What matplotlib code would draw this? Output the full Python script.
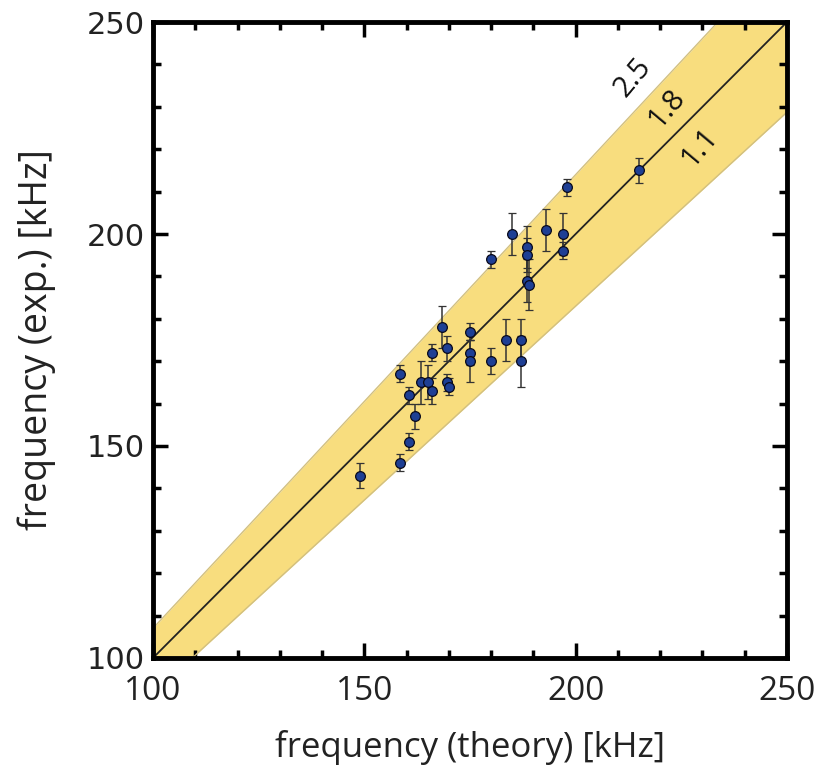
import matplotlib
matplotlib.use('Agg')
import matplotlib.pyplot as plt
import numpy as np
from matplotlib.ticker import MultipleLocator

# data
x_theory = [149, 158.5, 160.5, 162, 158.5, 160.5, 163.5, 165, 166, 166, 168.5, 169.5,
            169.5, 170, 175, 175, 175, 180, 183.5, 187, 187, 180, 185, 188.5, 188.5,
            188.5, 189, 193, 197, 197, 198, 215]
y_exp = [143, 146, 151, 157, 167, 162, 165, 165, 163, 172, 178, 173,
         165, 164, 177, 172, 170, 170, 175, 175, 170, 194, 200, 197, 195,
         189, 188, 201, 200, 196, 211, 215]
y_err = [3, 2, 2, 3, 2, 2, 5, 4, 3, 2, 5, 3,
         2, 2, 2, 3, 5, 3, 5, 5, 6, 2, 5, 5, 4,
         5, 6, 5, 5, 2, 2, 3]

band_factors = [1.07, 1.0, 0.915]
band_labels = ['2.5', '1.8', '1.1']
label_pos = [(213.6, 237.0), (221.6, 229.7), (229.4, 220.3)]

xticks = [100, 150, 200, 250]
yticks = [100, 150, 200, 250]

narrow = ['Open Sans', 'DejaVu Sans']

fig = plt.figure(figsize=(8.15, 7.65), dpi=100)
ax = fig.add_axes([0.1877, 0.1399, 0.7779, 0.8313])

xs = np.array([100.0, 250.0])
ax.fill_between(xs, xs * band_factors[2], xs * band_factors[0],
                color='#F8DD7E', lw=0, zorder=1)
ax.plot(xs, xs * band_factors[0], color='#D2C080', lw=1.0, zorder=2)
ax.plot(xs, xs * band_factors[2], color='#D2C080', lw=1.0, zorder=2)
ax.plot(xs, xs * band_factors[1], color='#222222', lw=1.3, zorder=2)

ax.errorbar(x_theory, y_exp, yerr=y_err, fmt='o', ms=7,
            mfc='#1E3F94', mec='#0a0a1a', mew=0.9,
            ecolor='#333333', elinewidth=1.1, capsize=3, capthick=1.1, zorder=3)

for lab, (lx, ly) in zip(band_labels, label_pos):
    ax.text(lx, ly, lab, rotation=50, ha='center', va='center',
            fontsize=21, family=narrow, color='#111111', zorder=4)

ax.set_xlim(100, 250)
ax.set_ylim(100, 250)
ax.set_xticks(xticks)
ax.set_yticks(yticks)
ax.xaxis.set_minor_locator(MultipleLocator(10))
ax.yaxis.set_minor_locator(MultipleLocator(10))
ax.tick_params(which='both', direction='in', top=True, right=True, width=2.5, color='black')
ax.tick_params(which='major', length=11)
ax.tick_params(which='minor', length=6)
ax.tick_params(axis='x', pad=12)
ax.tick_params(axis='y', pad=6)
for s in ax.spines.values():
    s.set_linewidth(3.5)

for t in ax.get_xticklabels():
    t.set_fontfamily(narrow)
    t.set_fontsize(24)
    t.set_color('#222222')
for t in ax.get_yticklabels():
    t.set_fontfamily(['DejaVu Sans'])
    t.set_fontsize(22)
    t.set_color('#222222')

ax.set_xlabel('frequency (theory) [kHz]', fontsize=25, family=narrow, color='#222222', labelpad=16)
ax.set_ylabel('frequency (exp.) [kHz]', fontsize=27, family=narrow, color='#222222', labelpad=22)

fig.savefig('out.png', dpi=100)
